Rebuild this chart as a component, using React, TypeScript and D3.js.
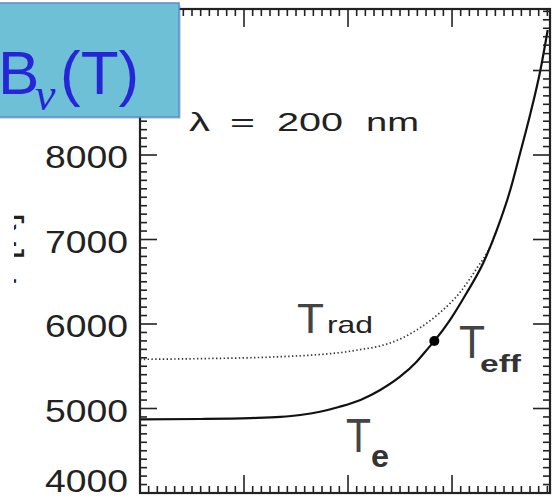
import React from 'react';
import * as d3 from 'd3';

const W = 554;
const H = 499;

// y-axis labelled values (K)
const Y_LABELS = [4000, 5000, 6000, 7000, 8000, 9000];

// Electron temperature T_e (solid)
const TE_X = [0, 0.58, 1.06, 1.35, 1.54, 1.73, 1.92, 2.12, 2.31, 2.5, 2.66, 2.77, 2.83, 2.98, 3.14, 3.3, 3.43, 3.56, 3.65, 3.75, 3.85, 3.92];
const TE_T = [4872, 4876, 4886, 4900, 4923, 4962, 5021, 5101, 5219, 5376, 5554, 5712, 5799, 6047, 6367, 6722, 7112, 7586, 8000, 8473, 9006, 9479];

// Radiation temperature T_rad (dotted)
const TRAD_X = [0, 0.58, 1.35, 1.66, 1.99, 2.12, 2.31, 2.5, 2.69, 2.88, 3.08, 3.24, 3.37, 3.43];
const TRAD_T = [5582, 5590, 5613, 5633, 5672, 5698, 5740, 5822, 5953, 6130, 6379, 6663, 6923, 7112];

// T_eff marker
const TEFF_X = 2.83;
const TEFF_T = 5799;

const SANS = 'Liberation Sans, Arial, sans-serif';

export default function App() {
  const x = d3.scaleLinear().domain([0, 3.942]).range([140, 550]);
  const y = d3.scaleLinear().domain([4000, 9728]).range([493, 9]);

  const line = d3
    .line<[number, number]>()
    .x((d) => x(d[0]))
    .y((d) => y(d[1]))
    .curve(d3.curveMonotoneX);

  const teData: [number, number][] = TE_X.map((v, i) => [v, TE_T[i]]);
  const tradData: [number, number][] = TRAD_X.map((v, i) => [v, TRAD_T[i]]);

  const [x0, x1] = x.range();
  const [y0, y1] = y.range(); // y0 bottom, y1 top

  const yTicks = d3.range(4000, 9728, 100);
  const xTicks = d3.range(0, 48).map((i) => ({ v: i / 12, major: i % 12 === 0 })).filter((t) => t.v <= 3.942);

  return (
    <svg width={W} height={H} style={{ position: 'absolute', left: 0, top: 0, background: '#fff' }}>
      <defs>
        <clipPath id="lblclip">
          <rect x={14} y={0} width={40} height={H} />
        </clipPath>
      </defs>
      <rect x={0} y={0} width={W} height={H} fill="#fff" />

      {/* partially visible y-axis title */}
      <g clipPath="url(#lblclip)">
        <text
          transform={`translate(16,213) rotate(-90)`}
          textAnchor="end"
          fontFamily={SANS}
          fontSize={38}
          fill="#222"
        >
          T [K]
        </text>
      </g>

      {/* curves */}
      <path d={line(tradData) || ''} fill="none" stroke="#333" strokeWidth={1.7} strokeDasharray="1.4 2.4" />
      <path d={line(teData) || ''} fill="none" stroke="#111" strokeWidth={2.2} />
      <circle cx={x(TEFF_X)} cy={y(TEFF_T)} r={5} fill="#000" />

      {/* frame */}
      <rect x={x0} y={y1} width={x1 - x0} height={y0 - y1} fill="none" stroke="#222" strokeWidth={2.2} />

      {/* y ticks left & right */}
      {yTicks.map((v) => {
        const major = v % 1000 === 0;
        const len = major ? 17 : 7;
        return (
          <g key={'y' + v} stroke="#222" strokeWidth={1.6}>
            <line x1={x0} x2={x0 + len} y1={y(v)} y2={y(v)} />
            <line x1={x1} x2={x1 - len} y1={y(v)} y2={y(v)} />
          </g>
        );
      })}

      {/* x ticks bottom & top */}
      {xTicks.map((t, i) => {
        const len = t.major ? 18 : 7;
        return (
          <g key={'x' + i} stroke="#222" strokeWidth={1.6}>
            <line x1={x(t.v)} x2={x(t.v)} y1={y0} y2={y0 - len} />
            <line x1={x(t.v)} x2={x(t.v)} y1={y1} y2={y1 + len} />
          </g>
        );
      })}

      {/* y tick labels */}
      {Y_LABELS.map((v) => (
        <text
          key={'yl' + v}
          x={45}
          y={Math.min(y(v) + 13, 492)}
          fontFamily={SANS}
          fontSize={31}
          fill="#222"
          textLength={83}
          lengthAdjust="spacingAndGlyphs"
        >
          {v}
        </text>
      ))}

      {/* lambda annotation */}
      <g fontFamily={SANS} fontSize={26} fill="#222">
        <text x={189} y={131} textLength={21} lengthAdjust="spacingAndGlyphs">λ</text>
        <text x={230} y={131} textLength={25} lengthAdjust="spacingAndGlyphs">=</text>
        <text x={277} y={131} textLength={66} lengthAdjust="spacingAndGlyphs">200</text>
        <text x={366} y={131} textLength={53} lengthAdjust="spacingAndGlyphs">nm</text>
      </g>

      {/* curve labels */}
      <g fontFamily={SANS}>
        <text x={297} y={333} fontSize={42} fill="#444" textLength={27} lengthAdjust="spacingAndGlyphs">T</text>
        <text x={327} y={333} fontSize={24} fill="#222" textLength={46} lengthAdjust="spacingAndGlyphs">rad</text>
        <text x={459} y={358} fontSize={46} fill="#444" textLength={26} lengthAdjust="spacingAndGlyphs">T</text>
        <text x={480} y={372} fontSize={24} fontWeight="bold" fill="#333" textLength={41} lengthAdjust="spacingAndGlyphs">eff</text>
        <text x={346} y={452} fontSize={49} fill="#444" textLength={25} lengthAdjust="spacingAndGlyphs">T</text>
        <text x={371} y={467} fontSize={32} fontWeight="bold" fill="#333" textLength={18} lengthAdjust="spacingAndGlyphs">e</text>
      </g>

      {/* blue title box */}
      <rect x={-3} y={5} width={184} height={114} fill="#3a6f9a" opacity={0.25} />
      <rect x={-3} y={3} width={182} height={114} fill="#6EC0D6" stroke="#5A8DC9" strokeWidth={1.5} />
      <g fill="#2626D8">
        <text x={-2} y={94} fontFamily={SANS} fontSize={62}>B</text>
        <text x={35} y={110} fontFamily="Liberation Serif, serif" fontStyle="italic" fontSize={46}>ν</text>
        <text x={60} y={94} fontFamily={SANS} fontSize={62}>(T)</text>
      </g>
    </svg>
  );
}
